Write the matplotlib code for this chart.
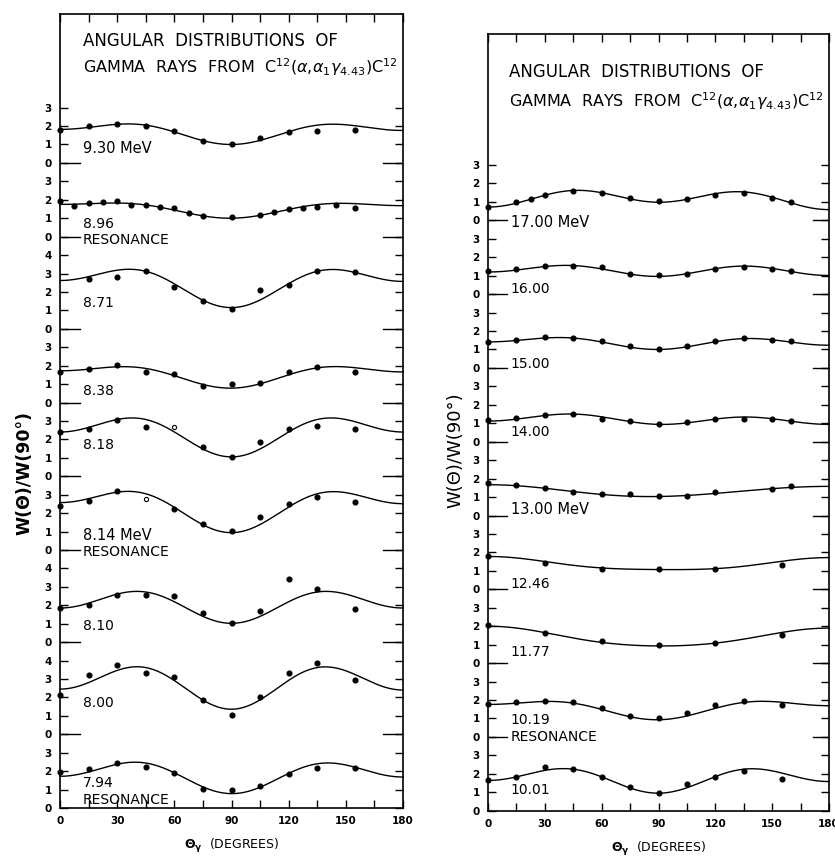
import numpy as np
import matplotlib.pyplot as plt

plt.rcParams['font.family'] = ['DejaVu Sans']

# angles (degrees) at which yields were measured
ang_std = [0, 15, 30, 45, 60, 75, 90, 105, 120, 135, 155]
ang_896 = [0, 7.5, 15, 22.5, 30, 37.5, 45, 52.5, 60, 67.5, 75, 90, 105, 112.5,
           120, 127.5, 135, 145, 155]
ang_871 = [15, 30, 45, 60, 75, 90, 105, 120, 135, 155]
ang_1700 = [0, 15, 22.5, 30, 45, 60, 75, 90, 105, 120, 135, 150, 160]
ang_hi = [0, 15, 30, 45, 60, 75, 90, 105, 120, 135, 150, 160]
ang_1300 = [0, 15, 30, 45, 60, 75, 90, 105, 120, 150, 160]
ang_sparse = [0, 30, 60, 90, 120, 155]

fit_ang = [0, 45, 90, 135, 180]

# ---- left panel, W(theta)/W(90) points
w_930 = [1.77, 1.99, 2.13, 1.99, 1.72, 1.18, 1.01, 1.36, 1.68, 1.74, 1.77]
w_896 = [1.95, 1.68, 1.83, 1.86, 1.95, 1.72, 1.72, 1.59, 1.54, 1.28, 1.14, 1.08,
         1.18, 1.32, 1.50, 1.54, 1.63, 1.72, 1.54]
w_871 = [2.71, 2.80, 3.16, 2.26, 1.50, 1.08, 2.12, 2.39, 3.16, 3.07]
w_838 = [1.63, 1.81, 2.03, 1.63, 1.54, 0.87, 0.99, 1.08, 1.63, 1.93, 1.63]
w_818 = [2.39, 2.57, 3.07, 2.66, 2.66, 1.61, 1.05, 1.86, 2.59, 2.71, 2.59]
w_814 = [2.39, 2.66, 3.20, 2.78, 2.24, 1.43, 1.03, 1.79, 2.48, 2.89, 2.62]
w_810 = [1.83, 2.04, 2.55, 2.55, 2.48, 1.59, 1.05, 1.68, 3.44, 2.86, 1.81]
w_800 = [2.13, 3.22, 3.76, 3.35, 3.13, 1.86, 1.05, 2.04, 3.31, 3.89, 2.95]
w_794 = [1.95, 2.13, 2.46, 2.22, 1.90, 1.01, 0.96, 1.18, 1.83, 2.19, 2.19]

# fitted curves read at fit_ang
fit_930 = [1.82, 2.05, 1.00, 2.05, 1.76]
fit_896 = [1.75, 1.72, 1.00, 1.74, 1.68]
fit_871 = [2.62, 3.12, 1.15, 3.12, 2.57]
fit_838 = [1.72, 1.85, 0.78, 1.88, 1.66]
fit_818 = [2.40, 3.08, 1.05, 3.08, 2.40]
fit_814 = [2.57, 3.05, 0.94, 3.05, 2.51]
fit_810 = [1.85, 2.72, 1.02, 2.72, 1.85]
fit_800 = [2.45, 3.62, 1.36, 3.62, 2.40]
fit_794 = [1.72, 2.44, 0.78, 2.40, 1.68]

# ---- right panel
w_1700 = [0.72, 0.98, 1.16, 1.39, 1.61, 1.49, 1.21, 1.03, 1.16, 1.39, 1.49, 1.21, 1.00]
w_1600 = [1.23, 1.38, 1.52, 1.50, 1.47, 1.10, 1.05, 1.07, 1.34, 1.47, 1.38, 1.23]
w_1500 = [1.41, 1.49, 1.67, 1.63, 1.45, 1.18, 1.03, 1.21, 1.45, 1.63, 1.54, 1.45]
w_1400 = [1.16, 1.29, 1.43, 1.52, 1.21, 1.12, 0.98, 1.07, 1.21, 1.25, 1.21, 1.12]
w_1300 = [1.76, 1.64, 1.49, 1.25, 1.16, 1.16, 1.07, 1.07, 1.25, 1.45, 1.60]
w_1246 = [1.78, 1.45, 1.09, 1.11, 1.09, 1.33]
w_1177 = [2.05, 1.65, 1.18, 1.00, 1.09, 1.51]
w_1019 = [1.76, 1.91, 1.96, 1.91, 1.56, 1.15, 1.00, 1.29, 1.73, 1.93, 1.73]
w_1001 = [1.67, 1.80, 2.36, 2.25, 1.85, 1.31, 0.98, 1.45, 1.80, 2.16, 1.71]

fit_1700 = [0.72, 1.62, 0.98, 1.54, 0.58]
fit_1600 = [1.20, 1.55, 0.96, 1.52, 1.01]
fit_1500 = [1.41, 1.62, 1.00, 1.59, 1.23]
fit_1400 = [1.12, 1.50, 0.94, 1.34, 0.94]
fit_1300 = [1.67, 1.30, 1.03, 1.33, 1.58]
fit_1246 = [1.78, 1.30, 1.07, 1.25, 1.72]
fit_1177 = [2.00, 1.36, 0.93, 1.30, 1.90]
fit_1019 = [1.76, 1.83, 0.93, 1.87, 1.69]
fit_1001 = [1.64, 2.25, 0.95, 2.25, 1.58]

left_text = [["9.30 MeV"], ["8.96", "RESONANCE"], ["8.71"], ["8.38"], ["8.18"],
             ["8.14 MeV", "RESONANCE"], ["8.10"], ["8.00"], ["7.94", "RESONANCE"]]
right_text = [["17.00 MeV"], ["16.00"], ["15.00"], ["14.00"], ["13.00 MeV"],
              ["12.46"], ["11.77"], ["10.19", "RESONANCE"], ["10.01"]]

# open (hollow) points
left_open = [[], [], [], [], [60], [45], [], [], []]
right_open = [[] for _ in range(9)]

# layout: block baselines, highest tick per block, label heights
left_base = [35, 31, 26, 22, 18, 14, 9, 4, 0]
left_top = [3, 3, 4, 3, 3, 3, 4, 4, 3]
left_lab_y = [[0.8], [0.7, -0.2], [1.4], [0.6], [1.7], [0.8, -0.1], [0.9], [1.7], [1.36, 0.43]]
right_base = [32, 28, 24, 20, 16, 12, 8, 4, 0]
right_top = [3] * 9
right_lab_y = [[-0.1], [0.26], [0.2], [0.5], [0.3], [0.3], [0.6], [0.9, -0.03], [1.14]]

left_ang = [ang_std, ang_896, ang_871, ang_std, ang_std, ang_std, ang_std, ang_std, ang_std]
left_w = [w_930, w_896, w_871, w_838, w_818, w_814, w_810, w_800, w_794]
left_fit = [fit_930, fit_896, fit_871, fit_838, fit_818, fit_814, fit_810, fit_800, fit_794]
right_ang = [ang_1700, ang_hi, ang_hi, ang_hi, ang_1300, ang_sparse, ang_sparse, ang_std, ang_std]
right_w = [w_1700, w_1600, w_1500, w_1400, w_1300, w_1246, w_1177, w_1019, w_1001]
right_fit = [fit_1700, fit_1600, fit_1500, fit_1400, fit_1300, fit_1246, fit_1177, fit_1019, fit_1001]


def draw_panel(ax, angs, ws, fits, opens, bases, tops, texts, lab_y, ytop, zlen):
    theta = np.linspace(0, 180, 361)
    cfit = np.cos(np.radians(fit_ang))
    yt, yl = [], []
    for a, w, f, op, b, t, tx, ly in zip(angs, ws, fits, opens, bases, tops, texts, lab_y):
        # curve: Legendre-type series in cos(theta) through the read values
        coef = np.polyfit(cfit, f, 4)
        ax.plot(theta, b + np.polyval(coef, np.cos(np.radians(theta))),
                color='black', lw=1.0, clip_on=False)
        a = np.array(a)
        w = np.array(w)
        hollow = np.isin(a, op)
        ax.plot(a[~hollow], b + w[~hollow], 'o', color='black', ms=3.4, clip_on=False)
        if hollow.any():
            ax.plot(a[hollow], b + w[hollow], 'o', mfc='white', mec='black',
                    mew=0.8, ms=3.0, clip_on=False)
        for k in range(t + 1):
            yt.append(b + k)
            yl.append(str(k))
        for s, y in zip(tx, ly):
            ax.text(12, b + y, s, fontsize=10.5 if 'MeV' in s else 10,
                    va='center', ha='left')
        if b > 0:
            ax.axhline(b, 0, zlen[0], color='black', lw=1.0)
            ax.axhline(b, 1 - zlen[1], 1, color='black', lw=1.0)
    ax.set_xlim(0, 180)
    ax.set_ylim(0, ytop)
    ax.set_yticks(yt)
    ax.set_yticklabels(yl, fontweight='bold', fontsize=7.5)
    ax.set_xticks(range(0, 181, 30))
    ax.set_xticks(range(15, 181, 30), minor=True)
    ax.set_xticklabels([str(v) for v in range(0, 181, 30)], fontweight='bold', fontsize=7.5)
    ax.tick_params(axis='y', direction='in', length=6, width=1.0, left=True,
                   right=True, pad=6)
    ax.tick_params(axis='x', which='both', direction='in', length=6, width=1.0,
                   top=True, bottom=True, pad=6)
    for sp in ax.spines.values():
        sp.set_linewidth(1.2)
    ax.set_xlabel(r'$\mathbf{\Theta_{\gamma}}$  (DEGREES)', fontsize=9, labelpad=8)


fig = plt.figure(figsize=(8.35, 8.58), dpi=100)
ax1 = fig.add_axes([60 / 835, 1 - 808 / 858, 343 / 835, 794 / 858])
ax2 = fig.add_axes([488 / 835, 1 - 810.7 / 858, 341 / 835, 776.7 / 858])

draw_panel(ax1, left_ang, left_w, left_fit, left_open, left_base, left_top,
           left_text, left_lab_y, 43.08, (20 / 343, 20 / 343))
draw_panel(ax2, right_ang, right_w, right_fit, right_open, right_base, right_top,
           right_text, right_lab_y, 42.1, (19 / 341, 16 / 341))

title1 = 'ANGULAR  DISTRIBUTIONS  OF'
title2 = r'GAMMA  RAYS  FROM  C$^{12}$($\alpha$,$\alpha_1\gamma_{4.43}$)C$^{12}$'
ax1.text(12, 41.6, title1, fontsize=12, va='center', ha='left')
ax1.text(12, 40.2, title2, fontsize=11.5, va='center', ha='left')
ax2.text(11, 40.05, title1, fontsize=12, va='center', ha='left')
ax2.text(11, 38.45, title2, fontsize=11.5, va='center', ha='left')

fig.text(24 / 835, 1 - 473 / 858, 'W(Θ)/W(90°)', rotation=90, fontsize=12.5,
         fontweight='bold', ha='center', va='center')
fig.text(455 / 835, 1 - 450 / 858, 'W(Θ)/W(90°)', rotation=90, fontsize=13,
         ha='center', va='center')

fig.savefig('out.png', dpi=100)
